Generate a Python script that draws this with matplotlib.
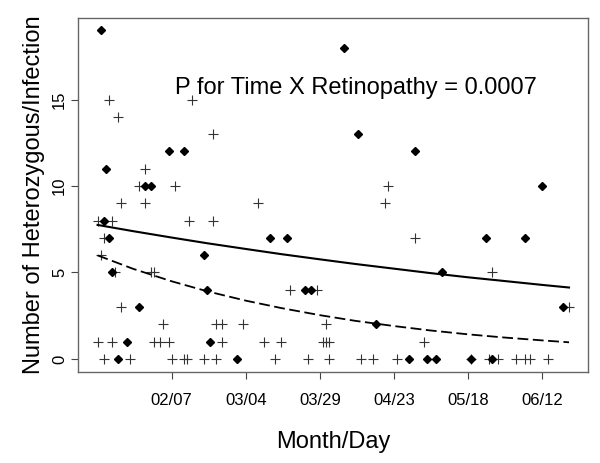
import matplotlib
matplotlib.use('Agg')
import matplotlib.pyplot as plt

plt.rcParams['font.family'] = ['Liberation Sans', 'DejaVu Sans']

# day of year (Jan 1 = 1) and counts
ret_day = [14, 15, 16, 17, 18, 20, 23, 27, 29, 31, 37, 42, 49, 50, 51, 60, 71, 77,
           83, 85, 96, 101, 107, 118, 120, 124, 127, 129, 139, 144, 146, 157, 163, 170]
ret_count = [19, 8, 11, 7, 5, 0, 1, 3, 10, 10, 12, 12, 6, 4, 1, 0, 7, 7,
             4, 4, 18, 13, 2, 0, 12, 0, 0, 5, 0, 7, 0, 7, 10, 3]

non_day = [13, 13, 14, 15, 15, 17, 18, 18, 19, 20, 21, 21, 24, 27, 29, 29, 31, 32,
           32, 34, 35, 37, 38, 39, 42, 43, 44, 45, 49, 52, 52, 53, 53, 55, 55, 62,
           67, 69, 73, 75, 78, 84, 87, 89, 90, 90, 91, 91, 102, 106, 110, 111, 114,
           120, 123, 139, 145, 146, 148, 154, 157, 159, 165, 172]
non_count = [8, 1, 6, 7, 0, 15, 8, 1, 5, 14, 9, 3, 0, 10, 11, 9, 5, 5,
             1, 1, 2, 1, 0, 10, 0, 0, 8, 15, 0, 13, 8, 2, 0, 2, 1, 2,
             9, 1, 0, 1, 4, 0, 4, 1, 1, 2, 1, 0, 0, 0, 9, 10, 0,
             7, 1, 0, 0, 5, 0, 0, 0, 0, 0, 3]

# fitted curves (solid = retinopathy, dashed = no retinopathy)
fit_day = [13, 25, 38, 50, 63, 75, 88, 100, 113, 125, 138, 150, 163, 172]
fit_ret = [7.75, 7.39, 7.02, 6.69, 6.36, 6.06, 5.76, 5.49, 5.22, 4.97, 4.72, 4.51, 4.28, 4.13]
fit_non = [5.99, 5.21, 4.49, 3.91, 3.37, 2.94, 2.53, 2.20, 1.90, 1.65, 1.42, 1.24, 1.07, 0.96]

tick_day = [38, 63, 88, 113, 138, 163]
tick_label = ['02/07', '03/04', '03/29', '04/23', '05/18', '06/12']

fig = plt.figure(figsize=(6, 4.63), dpi=100)
ax = fig.add_axes([0.1305, 0.1972, 0.849, 0.7646])

ax.plot(non_day, non_count, linestyle='none', marker='+', markersize=7,
        markeredgewidth=0.8, color='#333333')
ax.plot(ret_day, ret_count, linestyle='none', marker='D', markersize=4.4,
        color='black')

ax.plot(fit_day, fit_ret, color='black', linewidth=1.5)
ax.plot(fit_day, fit_non, color='black', linewidth=1.3, dashes=(6, 2.5))

ax.text(39, 15.3, 'P for Time X Retinopathy = 0.0007', fontsize=17,
        ha='left', va='baseline')

ax.set_xlim(6.5, 178.3)
ax.set_ylim(-0.74, 19.74)
ax.set_xticks(tick_day)
ax.set_xticklabels(tick_label, fontsize=12)
ax.set_yticks([0, 5, 10, 15])
ax.set_yticklabels(['0', '5', '10', '15'], fontsize=12, rotation=90, va='center')
ax.tick_params(length=5, width=0.8, color='#444444')
ax.tick_params(axis='x', pad=10)
ax.tick_params(axis='y', pad=3)

for side in ax.spines.values():
    side.set_color('#666666')
    side.set_linewidth(1.0)

ax.set_xlabel('Month/Day', fontsize=17, labelpad=17)
ax.set_ylabel('Number of Heterozygous/Infection', fontsize=17, labelpad=5)

plt.savefig('out.png', dpi=100)
